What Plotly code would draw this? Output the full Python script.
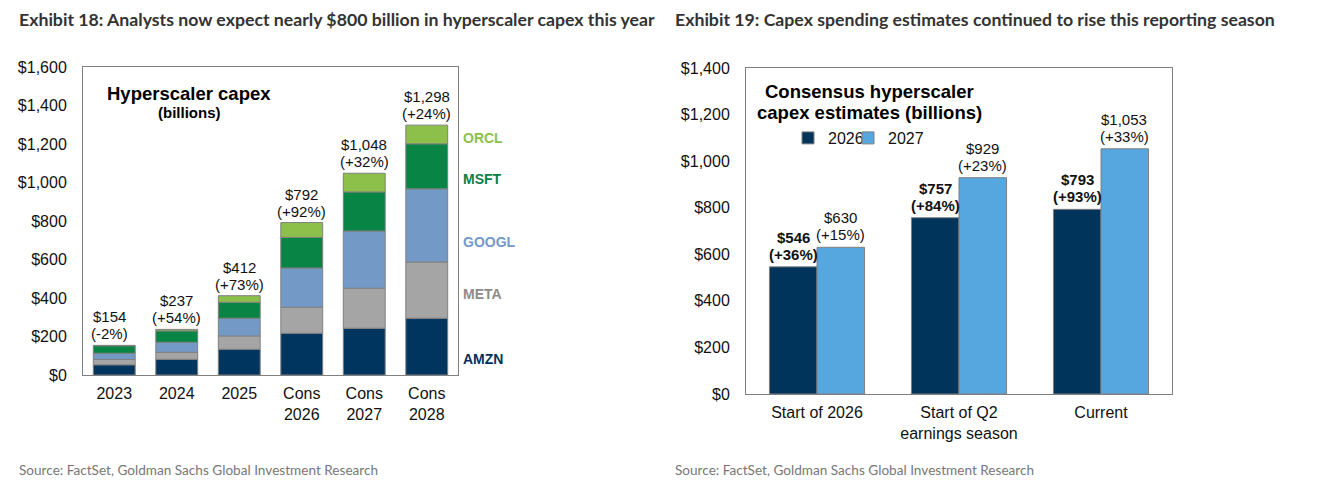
import numpy as np
import plotly.graph_objects as go

# ---------------- data ----------------
years = ["2023", "2024", "2025", "Cons<br>2026", "Cons<br>2027", "Cons<br>2028"]
companies = ["AMZN", "META", "GOOGL", "MSFT", "ORCL"]
amzn = [53, 82, 134, 217, 243, 295]
meta = [28, 36, 69, 135, 208, 292]
googl = [32, 52, 92, 204, 297, 380]
msft = [39, 59, 83, 159, 203, 234]
orcl = [2, 8, 34, 77, 97, 97]
growth_left = ["-2%", "+54%", "+73%", "+92%", "+32%", "+24%"]

stages = ["Start of 2026", "Start of Q2<br>earnings season", "Current"]
est_2026 = [546, 757, 793]
est_2027 = [630, 929, 1053]
growth_2026 = ["+36%", "+84%", "+93%"]
growth_2027 = ["+15%", "+23%", "+33%"]

left_ticks = [0, 200, 400, 600, 800, 1000, 1200, 1400, 1600]
right_ticks = [0, 200, 400, 600, 800, 1000, 1200, 1400]

# ---------------- styling ----------------
W, H = 1329, 491
FONT = "Liberation Sans, Arial, sans-serif"
TFONT = "Lato, Open Sans, sans-serif"
colors = {"AMZN": "#003560", "META": "#A5A5A5", "GOOGL": "#7399C6",
          "MSFT": "#088444", "ORCL": "#8CC04A"}
label_colors = {"AMZN": "#00325F", "META": "#8C8C8C", "GOOGL": "#7399C6",
                "MSFT": "#0B7F45", "ORCL": "#8DC149"}
C26, C27 = "#00345B", "#56A6E0"
EDGE = "#808080"


def px_x(p):
    return p / W


def px_y(p):
    return 1 - p / H


fig = go.Figure()

# left stacked bars (stacked through base)
series = [amzn, meta, googl, msft, orcl]
base = np.zeros(len(years), dtype=int)
for name, vals in zip(companies, series):
    fig.add_trace(go.Bar(
        x=years, y=vals, base=base.tolist(), name=name,
        marker=dict(color=colors[name], line=dict(color=EDGE, width=1)),
        offsetgroup="stack", xaxis="x", yaxis="y", showlegend=False,
        hoverinfo="skip"))
    base = base + np.array(vals)
totals = base.tolist()

# right grouped bars
fig.add_trace(go.Bar(x=stages, y=est_2026, name="2026", legend="legend",
                     marker=dict(color=C26, line=dict(color=EDGE, width=1)),
                     offsetgroup="a", xaxis="x2", yaxis="y2"))
fig.add_trace(go.Bar(x=stages, y=est_2027, name="2027", legend="legend2",
                     marker=dict(color=C27, line=dict(color=EDGE, width=1)),
                     offsetgroup="b", xaxis="x2", yaxis="y2"))

ann = []
LBL = dict(family=FONT, size=15, color="#111")
# left value labels
for i, (t, g) in enumerate(zip(totals, growth_left)):
    xs = -5 if i == 0 else 0
    ann.append(dict(x=i, y=t, xref="x", yref="y", text=f"({g})",
                    showarrow=False, xanchor="center", yanchor="bottom",
                    yshift=1, xshift=xs, font=LBL))
    ann.append(dict(x=i, y=t, xref="x", yref="y", text=f"${t:,}",
                    showarrow=False, xanchor="center", yanchor="bottom",
                    yshift=18, xshift=xs, font=LBL))

# right value labels
for i in range(len(stages)):
    for vals, gr, shift, bold in [(est_2026, growth_2026, -0.165, True),
                                  (est_2027, growth_2027, 0.165, False)]:
        v = vals[i]
        b0, b1 = ("<b>", "</b>") if bold else ("", "")
        ann.append(dict(x=i + shift, y=v, xref="x2", yref="y2",
                        text=f"{b0}({gr[i]}){b1}", showarrow=False,
                        xanchor="center", yanchor="bottom", yshift=2, font=LBL))
        ann.append(dict(x=i + shift, y=v, xref="x2", yref="y2",
                        text=f"{b0}${v:,}{b1}", showarrow=False,
                        xanchor="center", yanchor="bottom", yshift=19, font=LBL))

# side company labels
side_pos = {"ORCL": 1231, "MSFT": 1018, "GOOGL": 691, "META": 421, "AMZN": 83}
for name in companies:
    ann.append(dict(x=px_x(461), y=side_pos[name], xref="paper", yref="y",
                    text=f"<b>{name}</b>", showarrow=False, xanchor="left",
                    yanchor="middle",
                    font=dict(family=FONT, size=14, color=label_colors[name])))


def ptxt(x, y, text, size, family=FONT, color="#000", xanchor="center"):
    return dict(x=px_x(x), y=px_y(y), xref="paper", yref="paper", text=text,
                showarrow=False, xanchor=xanchor, yanchor="middle",
                font=dict(family=family, size=size, color=color))


ann += [
    ptxt(189, 93, "<b>Hyperscaler capex</b>", 18.5),
    ptxt(189, 112, "<b>(billions)</b>", 15),
    ptxt(869, 92, "<b>Consensus hyperscaler</b>", 18.5),
    ptxt(869, 112, "<b>capex estimates (billions)</b>", 18.5),
    ptxt(17, 20, "<b>Exhibit 18: Analysts now expect nearly $800 billion in hyperscaler capex this year</b>",
         17.7, TFONT, "#333", "left"),
    ptxt(673, 20, "<b>Exhibit 19: Capex spending estimates continued to rise this reporting season</b>",
         17.7, TFONT, "#333", "left"),
    ptxt(17, 470, "Source: FactSet, Goldman Sachs Global Investment Research",
         13.6, TFONT, "#777", "left"),
    ptxt(673, 470, "Source: FactSet, Goldman Sachs Global Investment Research",
         13.6, TFONT, "#777", "left"),
]

axis_common = dict(showline=True, linecolor=EDGE, linewidth=1, mirror=True,
                   showgrid=False, zeroline=False, ticks="",
                   tickfont=dict(family=FONT, size=16, color="#111"))

leg_common = dict(orientation="h", xanchor="left", yanchor="middle",
                  y=px_y(138), font=dict(family=FONT, size=16, color="#111"),
                  bgcolor="rgba(0,0,0,0)", itemwidth=30)

fig.update_layout(
    width=W, height=H, margin=dict(l=0, r=0, t=0, b=0, autoexpand=False),
    paper_bgcolor="white", plot_bgcolor="white",
    barmode="group", bargap=0.33, bargroupgap=0,
    xaxis=dict(domain=[px_x(83), px_x(458)], anchor="y", type="category",
               range=[-0.5, len(years) - 0.5], ticklabelstandoff=4,
               **axis_common),
    yaxis=dict(domain=[px_y(375), px_y(67)], anchor="x", range=[0, 1600],
               tickvals=left_ticks, ticktext=[f"${v:,}" for v in left_ticks],
               ticklabelstandoff=12, **axis_common),
    xaxis2=dict(domain=[px_x(746), px_x(1172)], anchor="y2", type="category",
                range=[-0.5, len(stages) - 0.5], ticklabelstandoff=4,
                **axis_common),
    yaxis2=dict(domain=[px_y(394), px_y(68)], anchor="x2", range=[0, 1400],
                tickvals=right_ticks, ticktext=[f"${v:,}" for v in right_ticks],
                ticklabelstandoff=12, **axis_common),
    legend=dict(x=px_x(788), **leg_common),
    legend2=dict(x=px_x(848), **leg_common),
    annotations=ann,
)

fig.write_html("out.html", config={"displayModeBar": False},
               post_script="document.body.style.margin='0';")
